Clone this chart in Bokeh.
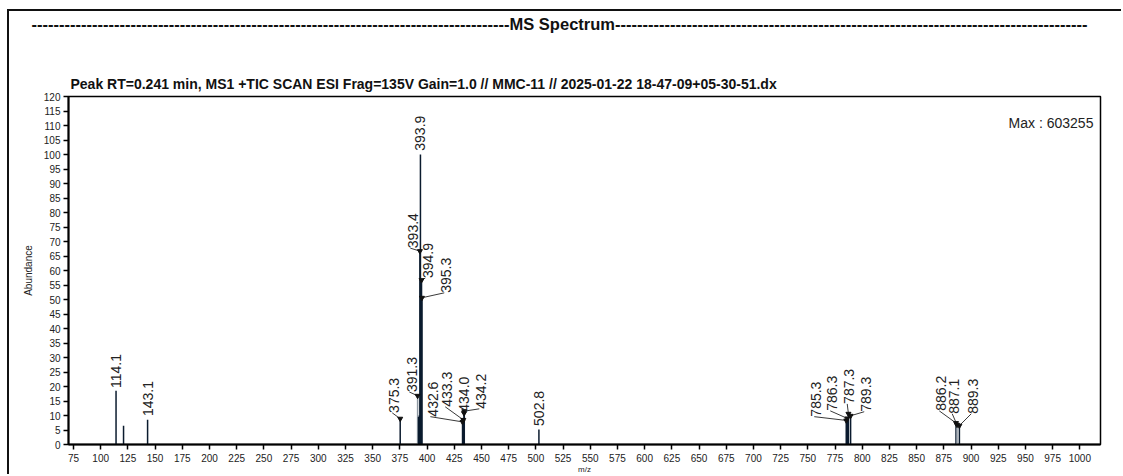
import math
from bokeh.plotting import figure
from bokeh.models import ColumnDataSource, FixedTicker, Label, Range1d, Title
from bokeh.core.properties import value
from bokeh.embed import file_html
from bokeh.resources import INLINE

# ---- data ----
mz = [114.1, 121.0, 143.1, 375.3, 391.3, 392.2, 392.8, 393.4, 393.9, 394.4,
      394.9, 395.3, 432.6, 433.3, 434.0, 434.2, 502.8, 785.3, 786.3, 787.3,
      789.3, 886.2, 887.1, 889.3]
abundance = [18.5, 6.5, 8.5, 8.9, 16.8, 9.5, 10.0, 66.7, 100.0, 54.0,
             56.7, 50.6, 7.8, 8.5, 10.8, 11.5, 5.2, 8.3, 9.0, 10.6,
             9.9, 7.4, 6.8, 6.5]
peak_labels = ["114.1", "", "143.1", "375.3", "391.3", "", "", "393.4", "393.9", "",
               "394.9", "395.3", "432.6", "433.3", "434.0", "434.2", "502.8", "785.3", "786.3", "787.3",
               "789.3", "886.2", "887.1", "889.3"]

x_ticks = list(range(75, 1001, 25))
y_ticks = list(range(0, 121, 5))

header_text = "MS Spectrum"
title_text = "Peak RT=0.241 min, MS1 +TIC SCAN ESI Frag=135V Gain=1.0 // MMC-11 // 2025-01-22 18-47-09+05-30-51.dx"
max_text = "Max : 603255"

# ---- annotation layout (where each peak label sits) ----
label_mz = [114.1, None, 143.1, 370.0, 385.7, None, None, 386.6, 393.9, None,
            400.4, 417.8, 405.0, 418.7, 433.5, 450.0, 502.8, 757.9, 772.6, 788.2,
            803.8, 872.8, 884.7, 902.2]
label_ab = [19.5, None, 9.8, 10.9, 18.1, None, None, 67.7, 101.3, None,
            57.4, 52.3, 9.6, 13.0, 11.3, 12.3, 6.4, 9.6, 11.6, 14.0,
            11.3, 11.6, 10.6, 10.6]

# ---- figure ----
p = figure(width=1114, height=465, title=None,
           x_range=Range1d(70.4, 1019.0), y_range=Range1d(0, 120),
           output_backend="svg", toolbar_location=None,
           min_border_left=59, min_border_right=23,
           min_border_top=85, min_border_bottom=29)
p.margin = (9, 0, 0, 7)
p.styles = {"border-top": "2px solid #111", "border-left": "2px solid #111"}
p.background_fill_color = "white"
p.border_fill_color = "white"
p.outline_line_color = "black"
p.outline_line_width = 1.5
p.xgrid.visible = False
p.ygrid.visible = False

FONT = "Liberation Sans"

# titles above the frame: first added sits nearest the frame
peak_title = Title(text=title_text, align="left", offset=2, standoff=10,
                   text_font=FONT, text_font_size="14px",
                   text_font_style="bold", text_color="#111")
spacer = Title(text=" ", text_font=FONT, text_font_size="1px", standoff=32)
dashes_l = "-" * 87
dashes_r = "-" * 86
header = Title(text=dashes_l + header_text + dashes_r, align="left",
               offset=-37, standoff=2, text_font=FONT,
               text_font_style="bold", text_font_size="16.5px",
               text_color="#111")
p.add_layout(peak_title, "above")
p.add_layout(spacer, "above")
p.add_layout(header, "above")

for ax in (p.xaxis[0], p.yaxis[0]):
    ax.axis_line_width = 2
    ax.axis_line_color = "black"
    ax.major_tick_line_color = "black"
    ax.major_tick_line_width = 1.5
    ax.major_tick_out = 5
    ax.major_tick_in = 0
    ax.minor_tick_line_color = None
    ax.major_label_text_font = FONT
    ax.major_label_text_font_size = "10px"
    ax.major_label_text_color = "#222"
    ax.major_label_standoff = 3
    ax.axis_label_text_font = FONT
    ax.axis_label_text_font_style = "normal"
    ax.axis_label_text_color = "#222"
    ax.axis_label_standoff = 0

p.xaxis.major_label_standoff = 4
p.xaxis.ticker = FixedTicker(ticks=x_ticks)
p.yaxis.ticker = FixedTicker(ticks=y_ticks)
p.xaxis.axis_label = "m/z"
p.xaxis.axis_label_text_font_size = "8px"
p.yaxis.axis_label = "Abundance"
p.yaxis.axis_label_text_font_size = "10px"
p.yaxis.axis_label_standoff = 7

# peaks
gray_peaks = {391.3, 887.1}
colors = ["#8f99a3" if m in gray_peaks else "#0b1b2e" for m in mz]
src = ColumnDataSource(dict(x=mz, y0=[0] * len(mz), y1=abundance, c=colors))
p.segment(x0="x", y0="y0", x1="x", y1="y1", source=src,
          line_color="c", line_width=1.5)

# labels, leaders, markers
lx, ly, lt, lead_x0, lead_y0, lead_x1, lead_y1 = [], [], [], [], [], [], []
for m, a, t, xm, ya in zip(mz, abundance, peak_labels, label_mz, label_ab):
    if not t:
        continue
    lx.append(xm)
    ly.append(ya)
    lt.append(t)
    if abs(xm - m) > 0.01:
        lead_x0.append(m)
        lead_y0.append(a)
        lead_x1.append(xm - 2.0)
        lead_y1.append(ya)

p.segment(x0=lead_x0, y0=lead_y0, x1=lead_x1, y1=lead_y1,
          line_color="#222", line_width=0.9)
p.scatter(x=lead_x0, y=lead_y0, marker="inverted_triangle", size=5,
          fill_color="#111", line_color="#111")
p.text(x=lx, y=ly, text=lt, angle=math.pi / 2, text_align="left",
       text_baseline="middle", text_font=value(FONT), text_font_size="14px",
       text_color="#222")

p.add_layout(Label(x=1012.5, y=110.8, text=max_text, text_align="right",
                   text_baseline="middle", text_font=FONT,
                   text_font_size="14px", text_color="#222"))

open("out.html", "w").write(file_html(p, INLINE))
